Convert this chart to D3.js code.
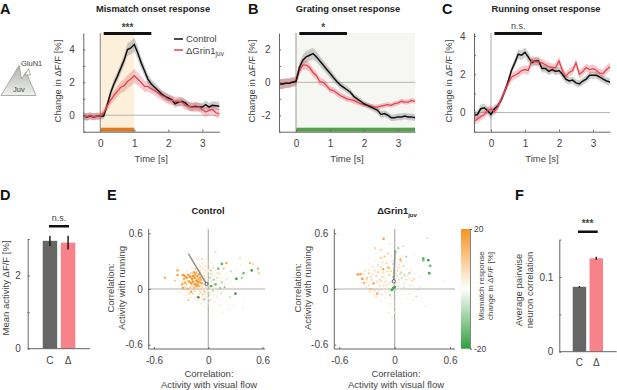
<!DOCTYPE html>
<html>
<head>
<meta charset="utf-8">
<script src="https://cdn.jsdelivr.net/npm/d3@7"></script>
<style>
body { margin: 0; background: #fff; }
svg { display: block; font-family: "Liberation Sans", Arial, sans-serif; }
text { fill: #444; }
</style>
</head>
<body>
<svg id="chart" width="617" height="390"></svg>
<script>
// time axis of panels A-C, every 100 ms
var times = [-0.5,-0.4,-0.3,-0.2,-0.1,0,0.1,0.2,0.3,0.4,0.5,0.6,0.7,0.8,0.9,1,1.1,1.2,1.3,1.4,1.5,1.6,1.7,1.8,1.9,2,2.1,2.2,2.3,2.4,2.5,2.6,2.7,2.8,2.9,3,3.1,3.2,3.3,3.4,3.5];

var mismatchControl = [-0.02,-0.12,-0.05,-0.1,-0.06,-0.06,-0.05,0.6,1.35,1.9,2.35,2.85,3.35,4.0,4.1,4.3,3.8,3.2,2.7,2.2,1.9,1.7,1.5,1.3,1.15,1.05,0.95,0.7,0.8,0.85,0.75,0.55,0.5,0.55,0.5,0.5,0.65,0.5,0.6,0.58,0.55];
var mismatchControlSe = [0.22,0.22,0.2,0.2,0.2,0.2,0.2,0.22,0.25,0.28,0.3,0.32,0.35,0.38,0.4,0.42,0.4,0.35,0.32,0.3,0.28,0.28,0.26,0.25,0.25,0.25,0.25,0.25,0.25,0.25,0.25,0.25,0.25,0.25,0.25,0.25,0.25,0.25,0.25,0.25,0.25];
var mismatchGrin = [-0.05,-0.1,-0.02,-0.1,-0.05,-0.05,0.15,0.55,0.9,1.2,1.45,1.7,1.8,2.05,2.2,2.4,2.2,2.0,1.75,1.75,1.6,1.5,1.35,1.2,1.1,0.95,0.9,0.85,0.85,0.8,0.6,0.55,0.5,0.5,0.5,0.35,0.2,0.3,0.35,0.15,0.1];
var mismatchGrinSe = [0.22,0.22,0.22,0.22,0.22,0.22,0.22,0.25,0.28,0.3,0.32,0.35,0.38,0.4,0.42,0.42,0.4,0.38,0.35,0.32,0.3,0.28,0.28,0.28,0.28,0.28,0.28,0.28,0.28,0.28,0.28,0.28,0.28,0.28,0.28,0.3,0.3,0.3,0.3,0.3,0.3];

var gratingControl = [-0.1,-0.1,-0.05,-0.05,0,0.05,0.9,1.35,1.55,1.65,1.75,1.55,1.3,1.05,0.8,0.55,0.3,0.05,-0.15,-0.3,-0.45,-0.6,-0.85,-1.0,-1.15,-1.3,-1.4,-1.5,-1.6,-1.7,-1.95,-1.9,-2.0,-2.15,-2.15,-2.1,-2.1,-2.05,-2.1,-2.1,-2.15];
var gratingControlSe = [0.3,0.3,0.28,0.28,0.28,0.28,0.3,0.32,0.35,0.35,0.35,0.32,0.3,0.3,0.28,0.28,0.25,0.22,0.22,0.2,0.2,0.2,0.18,0.18,0.18,0.18,0.18,0.18,0.18,0.2,0.2,0.2,0.2,0.2,0.2,0.2,0.2,0.2,0.2,0.2,0.2];
var gratingGrin = [-0.1,-0.1,-0.05,-0.05,0.05,0.1,0.7,1.05,1.05,0.9,0.6,0.4,0.05,0,-0.2,-0.45,-0.5,-0.65,-0.8,-0.9,-1.0,-1.05,-1.1,-1.2,-1.3,-1.35,-1.4,-1.45,-1.5,-1.5,-1.45,-1.4,-1.35,-1.4,-1.3,-1.25,-1.15,-1.2,-1.2,-1.1,-1.15];
var gratingGrinSe = [0.3,0.3,0.3,0.3,0.28,0.28,0.28,0.28,0.28,0.28,0.25,0.25,0.25,0.22,0.22,0.2,0.2,0.2,0.18,0.18,0.18,0.18,0.18,0.18,0.15,0.15,0.15,0.15,0.15,0.15,0.15,0.15,0.15,0.15,0.15,0.15,0.15,0.15,0.15,0.15,0.15];

var runningControl = [-0.15,-0.1,0.2,0.25,0.1,-0.1,0.2,0.35,0.65,1.1,1.6,2.2,2.6,3.05,3.0,3.15,2.9,2.6,2.7,2.7,2.3,2.3,2.15,2.25,2.15,2.2,2.0,1.75,1.65,1.7,1.55,1.5,1.65,1.75,1.95,1.95,1.95,1.85,1.75,1.65,1.6];
var runningControlSe = [0.22,0.22,0.22,0.22,0.22,0.22,0.2,0.18,0.15,0.15,0.18,0.2,0.22,0.25,0.25,0.25,0.25,0.22,0.22,0.22,0.2,0.2,0.2,0.2,0.2,0.2,0.2,0.2,0.18,0.18,0.18,0.18,0.18,0.18,0.18,0.18,0.18,0.18,0.2,0.2,0.2];
var runningGrin = [-0.45,-0.35,-0.2,-0.1,0.1,0.2,0.05,0.3,0.7,1.1,1.5,1.85,1.95,2.05,2.2,2.25,2.2,2.75,2.65,2.65,2.6,2.5,2.4,2.35,2.35,2.7,2.2,1.9,2.1,2.2,2.6,2.0,2.15,2.35,2.25,2.3,2.2,2.05,2.05,2.25,2.4];
var runningGrinSe = [0.2,0.2,0.2,0.2,0.2,0.2,0.18,0.18,0.18,0.2,0.22,0.22,0.22,0.22,0.22,0.22,0.22,0.22,0.22,0.22,0.22,0.22,0.22,0.22,0.22,0.22,0.22,0.22,0.22,0.22,0.22,0.22,0.22,0.22,0.22,0.22,0.22,0.22,0.22,0.22,0.22];

var barLabels = ["C", "Δ"];
var meanActivity = [2.95, 2.9];
var meanActivitySe = [0.14, 0.19];
var pairwiseCorr = [0.0868, 0.125];
var pairwiseCorrSe = [0.001, 0.002];

// scatter cells: [flow correlation, running correlation, mismatch response]
var controlCells = [
[-.48,.12,13],[-.34,.20,14],[-.34,.15,15],[-.37,.09,11],[-.28,.15,18],[-.26,.14,19],[-.24,.12,20],[-.22,.15,18],[-.20,.13,20],[-.18,.11,19],
[-.17,.14,20],[-.15,.12,20],[-.13,.09,20],[-.11,.08,19],[-.09,.07,18],[-.07,.06,15],[-.17,.08,20],[-.21,.08,18],[-.26,.07,17],[-.29,.05,15],
[-.28,.01,17],[-.23,0,15],[-.19,-.03,16],[-.15,.05,20],[-.13,.03,18],[-.09,.12,18],[-.22,-.12,11],[-.04,-.03,12],[-.06,-.06,10],[-.12,.32,9],
[-.07,.32,9],[.46,.28,13],[.55,.22,14],[.56,.17,12],[.49,.27,9],[.2,.28,16],[.17,.22,12],[.11,.17,8],[.05,.23,7],[-.14,.17,17],
[-.12,.14,19],[-.1,.16,17],[-.16,.18,16],[-.19,.06,19],[-.12,.05,18],[-.1,.03,14],[-.16,.01,13],[-.2,.02,10],[-.08,.1,14],[-.05,.09,9],
[-.24,.05,12],[-.27,.11,14],[-.14,.22,10],[-.09,.2,9],[-.04,.14,8],[-.17,-.05,8],[-.13,-.08,7],[-.09,-.03,8],[-.07,.01,9],[-.02,.02,6],
[.15,.27,-16],[.11,.22,-13],[.31,.11,-20],[.3,-.05,-19],[-.11,-.09,-19],[.48,.2,-19],[.39,.17,-13],[.37,.12,-12],[.03,.03,-17],[.08,.05,-14],
[.13,.01,-11],[.18,.02,-11],[-.04,-.11,-10],[.06,.1,-11],[.03,.2,-9],[.25,.19,-7],[.15,.07,-9],[.24,-.09,-6],[.35,.33,-5],[.08,.4,-5],
[.02,.12,-7],[.05,-.02,-8],[.1,.12,-6],[.14,-.05,-5],[.01,-.04,-6],[.04,.16,-5],[.09,-.08,-4],[.02,-.12,-5],[.12,.17,-4],[.2,.1,-4],
[-.05,.18,5],[-.02,.24,4],[-.06,.28,5],[-.1,.26,5],[0,.19,3],[.02,.07,3],[-.03,.06,5],[-.01,.1,4],[.03,.01,4],[.06,-.06,4],
[-.02,-.08,5],[-.05,-.13,5],[.01,-.16,4],[.07,-.14,4],[.12,-.1,3],[.16,-.03,3],[.18,.05,3],[.1,.03,3],[.05,.05,3],[.09,.09,2],
[-.12,-.13,5],[-.15,-.11,5],[-.08,-.16,4],[-.02,-.2,3],[.05,-.21,3],[.13,-.18,3],[.2,-.14,2],[.27,-.17,2],[.38,-.2,3],[.39,-.12,2],
[.23,-.22,3],[.16,-.25,3],[.04,-.28,2],[.24,.06,2],[.27,.02,2],[.31,.2,3],[.36,.26,2],[.2,.16,3],[.15,.13,3],[.08,.2,3],
[.03,.28,3],[-.03,.33,3],[-.15,.27,4],[-.18,.23,4],[-.23,.2,4],[-.3,.08,4],[-.31,-.03,4],[-.25,-.07,4],[-.2,-.09,4],[-.1,-.02,5],
[-.06,.22,7],[-.03,.2,6],[-.01,.16,6],[.02,.17,5],[-.08,.15,9],[-.04,.11,8],[-.02,.07,7],[.01,.04,5],[-.06,.03,8],[-.03,.01,7],
[-.05,-.01,8],[-.08,-.04,7],[-.11,0,9],[-.14,.07,10],[-.18,.04,10],[-.13,.18,12],[-.07,.13,11],[-.11,.11,14],[-.15,.15,14],[-.19,.17,9],
[-.23,.09,11],[-.25,.02,9],[-.21,-.05,8],[-.15,-.02,9],[-.1,-.06,6],[-.06,-.1,6],[-.03,-.05,6],[0,-.02,5],[.02,-.07,5],[.04,.09,5],
[.07,.14,4],[.06,.02,4],[.11,-.02,4],[.09,.17,4],[.13,.08,4],[.01,.21,4],[-.01,.27,5],[-.04,.25,6],[-.08,.24,6],[-.12,.2,8],
[.0,-.1,4],[-.04,-.18,4],[.03,-.11,4],[-.07,-.12,5],[.1,-.05,3],[.12,.05,3],[.22,.12,3],[.17,.09,3],[.14,.16,3],[.06,.26,3]
];

var grinCells = [
[-.12,.54,16],[-.40,.155,18],[-.35,.11,19],[-.37,.16,16],[-.33,.065,13],[-.23,.06,15],[-.19,-.05,15],[-.26,0,13],[-.125,.215,15],[-.07,.23,13],
[-.11,.35,12],[-.15,.335,11],[-.21,.44,9],[-.15,.42,9],[-.07,.38,10],[.06,.32,13],[.07,.30,10],[.105,.15,12],[.21,.11,10],[.19,.09,9],
[.09,.46,7],[.54,.08,4],[-.3,.12,11],[-.28,.17,10],[-.32,.2,8],[-.25,.1,9],[-.2,.14,9],[-.18,.18,9],[-.16,.1,9],[-.13,.13,10],
[-.1,.08,8],[-.06,.15,9],[-.04,.19,8],[-.02,.13,9],[-.09,.28,8],[-.18,.26,7],[-.24,.24,6],[-.28,.04,8],[-.22,-.02,8],[-.16,.03,7],
[-.12,.04,6],[-.08,.01,5],[-.14,-.06,6],[-.2,-.08,5],[-.27,-.03,6],[-.31,.02,5],[.03,.2,8],[.05,.1,7],[.02,.06,6],[.1,.06,6],
[.13,.21,4],[-.03,.3,5],[-.05,.48,5],[.16,.11,5],[.05,.26,5],
[.31,.33,-15],[.31,.31,-13],[.365,.31,-19],[.385,.25,-14],[.375,.17,-18],[.35,.55,-5],[.04,.44,-11],[.125,.35,-9],[.16,.17,-11],[-.015,.01,-18],
[-.03,-.01,-19],[0,.02,-19],[.08,.12,-9],[-.05,-.065,-9],[.235,-.08,-6],[.02,.4,-6],[.1,.25,-5],[.07,.18,-6],[.12,.1,-5],[.03,.14,-5],
[.1,.02,-4],[.04,.03,-5],[.17,.04,-4],[.11,.16,-4],[-.02,.09,-4],[.16,-.05,-3],[.08,-.06,-3],[.02,-.04,-3],[.28,.02,-3],[.28,.13,-3],
[-.01,-.14,3],[.01,-.18,3],[-.05,-.16,4],[-.1,-.1,4],[-.15,-.13,3],[-.06,-.26,3],[.0,-.25,3],[-.03,-.31,3],[.08,-.16,2],[.13,-.1,3],
[.2,-.12,2],[.33,-.18,3],[.18,.22,3],[.23,.17,3],[.21,.03,3],[.02,.25,3],[-.07,.05,3],[-.03,.04,4],[.01,.1,4],[.05,-.01,3],
[-.1,.12,4],[-.14,.17,4],[-.17,.06,4],[-.24,.16,4],[-.34,.16,4],[-.29,.07,4],[-.22,.3,3],[-.16,.23,3],[-.2,.38,3],[-.28,.27,3],
[-.12,.01,4],[-.08,-.05,4],[-.04,-.09,4],[.05,.33,3],[.13,.29,3],[.22,.36,2],[.15,.03,2],[.06,.07,2],[.09,.13,2],[-.01,.18,3],
[-.05,.22,8],[-.02,.27,7],[.01,.17,7],[.04,.23,8],[.06,.16,8],[-.08,.19,7],[-.12,.18,8],[-.15,.24,8],[-.22,.2,8],[-.26,.13,9],
[-.19,.08,8],[-.14,.08,7],[-.09,.04,6],[-.05,.07,7],[-.01,.05,6],[.03,.07,5],[-.06,-.02,5],[-.1,-.03,5],[-.17,-.02,6],[-.23,-.06,6],
[-.3,.1,8],[-.36,.07,6],[-.28,.21,5],[-.13,.29,6],[-.04,.36,5],[.01,.33,4],[.08,.24,5],[.13,.14,5],[.17,.2,4],[.09,-.01,4]
];

// circle + line showing the population mean in panel E
var controlMean = [[-0.02, 0.054], [-0.22, 0.38]];
var grinMean = [[-0.01, 0.083], [0.004, 0.42]];

var svg = d3.select("#chart");
var axisCol = "#666";
var black = "#111", red = "#e2464f";
var pink = "#f8828a", darkBar = "#666664";

function panelLetter(s, x, y) {
    svg.append("text").attr("x", x).attr("y", y).text(s)
        .style("font-size", "14.5px").style("font-weight", "bold").style("fill", "#111");
}

function label(s, x, y, size, weight) {
    return svg.append("text").attr("x", x).attr("y", y).attr("text-anchor", "middle")
        .style("font-size", (size || 9.5) + "px").style("font-weight", weight || "normal").text(s);
}

function vLabel(s, x, y, size) {
    return svg.append("text").attr("transform", "translate(" + x + "," + y + ") rotate(-90)")
        .attr("text-anchor", "middle").style("font-size", (size || 9.5) + "px").text(s);
}

function styleAxis(g) {
    g.selectAll("path").attr("stroke", axisCol).attr("stroke-width", 1);
    g.selectAll("line").attr("stroke", axisCol);
    g.selectAll("text").style("font-size", "10px").style("fill", "#444").style("font-family", "inherit");
}

// ticks point into the plot, labels stay outside
function leftAxis(scale, x, vals, fmt, pad) {
    var g = svg.append("g").attr("transform", "translate(" + x + ",0)")
        .call(d3.axisLeft(scale).tickValues(vals).tickFormat(fmt).tickSizeInner(-2).tickSizeOuter(0).tickPadding(pad));
    styleAxis(g);
    return g;
}

function bottomAxis(scale, y, vals, fmt, pad) {
    var g = svg.append("g").attr("transform", "translate(0," + y + ")")
        .call(d3.axisBottom(scale).tickValues(vals).tickFormat(fmt).tickSizeInner(-2).tickSizeOuter(0).tickPadding(pad));
    styleAxis(g);
    return g;
}

function oneLabel(v) { return v === 0 || Math.abs(v) % 2 === 0 ? d3.format("d")(v).replace("−", "-") : ""; }

function drawTrace(opt) {
    var x = d3.scaleLinear().domain([-0.5, 3.5]).range(opt.xRange);
    var y = d3.scaleLinear().domain(opt.yDomain).range([131.7, 33]);

    if (opt.shade) {
        svg.append("rect").attr("x", x(0)).attr("y", 33).attr("width", x(opt.shade.end) - x(0)).attr("height", 98.7)
            .attr("fill", opt.shade.color);
    }
    if (opt.stim) {
        svg.append("rect").attr("x", x(0)).attr("y", 127.7).attr("width", x(opt.stim.end) - x(0)).attr("height", 4)
            .attr("fill", opt.stim.color);
    }

    // zero lines
    svg.append("line").attr("x1", x(0)).attr("x2", x(0)).attr("y1", 33).attr("y2", 131.7)
        .attr("stroke", opt.vCol).attr("stroke-width", 1.2);
    svg.append("line").attr("x1", x.range()[0]).attr("x2", x.range()[1]).attr("y1", y(0)).attr("y2", y(0))
        .attr("stroke", "#b5b5b0").attr("stroke-width", 1);

    var band = function(se, vals) {
        return d3.area().x(function(d, i) { return x(times[i]); })
            .y0(function(d, i) { return y(vals[i] - se[i]); })
            .y1(function(d, i) { return y(vals[i] + se[i]); })(times);
    };
    var line = d3.line().x(function(d, i) { return x(times[i]); }).y(function(d) { return y(d); });

    svg.append("path").attr("d", band(opt.controlSe, opt.control)).attr("fill", "#8a8a8a").attr("opacity", 0.42);
    svg.append("path").attr("d", band(opt.grinSe, opt.grin)).attr("fill", red).attr("opacity", 0.28);
    if (opt.redOnTop) {
        svg.append("path").attr("d", line(opt.control)).attr("fill", "none").attr("stroke", black).attr("stroke-width", 1.5);
        svg.append("path").attr("d", line(opt.grin)).attr("fill", "none").attr("stroke", red).attr("stroke-width", 1.3);
    } else {
        svg.append("path").attr("d", line(opt.grin)).attr("fill", "none").attr("stroke", red).attr("stroke-width", 1.3);
        svg.append("path").attr("d", line(opt.control)).attr("fill", "none").attr("stroke", black).attr("stroke-width", 1.5);
    }

    leftAxis(y, x.range()[0], opt.yTicks, oneLabel, 8.5);
    bottomAxis(x, 131.7, [0, 1, 2, 3], d3.format("d"), 8);

    // significance bar
    svg.append("rect").attr("x", x(0.1)).attr("y", 32).attr("width", x(1.5) - x(0.1)).attr("height", 3).attr("fill", "#111");
    label(opt.sig, x(0.8), opt.sig === "n.s." ? 29 : 31, opt.sig === "n.s." ? 9 : 10, opt.sig === "n.s." ? "normal" : "bold");

    label("Time [s]", x(1.5), 162);
    vLabel("Change in ΔF/F [%]", opt.labelX, 81);
    label(opt.title, opt.titleX, 11.5, 9.3, "bold").style("fill", "#222");
}

drawTrace({ xRange: [83.3, 219.3], yDomain: [-1, 5], yTicks: [-1, 0, 1, 2, 3, 4], control: mismatchControl, controlSe: mismatchControlSe,
    grin: mismatchGrin, grinSe: mismatchGrinSe, vCol: "#999", shade: { end: 1, color: "#fdf0db" }, stim: { end: 1, color: "#de7a22" },
    sig: "***", title: "Mismatch onset response", titleX: 153, labelX: 60.5, redOnTop: true });

drawTrace({ xRange: [279, 415], yDomain: [-3, 3], yTicks: [-3, -2, -1, 0, 1, 2], control: gratingControl, controlSe: gratingControlSe,
    grin: gratingGrin, grinSe: gratingGrinSe, vCol: "#aaa", shade: { end: 3.5, color: "#f6f6f3" }, stim: { end: 3.5, color: "#55a04a" },
    sig: "*", title: "Grating onset response", titleX: 348, labelX: 254.5 });

drawTrace({ xRange: [474, 610], yDomain: [-1, 4.16], yTicks: [-1, 0, 1, 2, 3, 4], control: runningControl, controlSe: runningControlSe,
    grin: runningGrin, grinSe: runningGrinSe, vCol: "#b8b8b8",
    sig: "n.s.", title: "Running onset response", titleX: 546, labelX: 451.5, redOnTop: true });

// legend in panel A
svg.append("line").attr("x1", 174).attr("x2", 183).attr("y1", 39).attr("y2", 39).attr("stroke", black).attr("stroke-width", 1.5);
svg.append("line").attr("x1", 174).attr("x2", 183).attr("y1", 50).attr("y2", 50).attr("stroke", red).attr("stroke-width", 1.5);
svg.append("text").attr("x", 186).attr("y", 42).style("font-size", "9.5px").text("Control");
var legGrin = svg.append("text").attr("x", 186).attr("y", 53.5).style("font-size", "9.5px").text("ΔGrin1");
legGrin.append("tspan").attr("dy", 2.5).style("font-size", "6.5px").text("juv");

// cartoon left of panel A
var juvGrad = svg.append("defs").append("linearGradient").attr("id", "juvFill").attr("x1", 0).attr("y1", 0).attr("x2", 0).attr("y2", 1);
juvGrad.append("stop").attr("offset", 0).attr("stop-color", "#b0b0ae");
juvGrad.append("stop").attr("offset", 1).attr("stop-color", "#f0f0ee");
svg.append("path").attr("d", "M19,65.5 L1,95.5 L36,95.5 L26,72 L21.5,79 L20,70 Z")
    .attr("fill", "url(#juvFill)").attr("stroke", "#999").attr("stroke-width", 0.8);
svg.append("path").attr("d", "M25,75 L30.5,75 L28.5,68.5 Z").attr("fill", "#fff").attr("stroke", "#888").attr("stroke-width", 0.7);
svg.append("text").attr("x", 21).attr("y", 66).style("font-size", "7.5px").text("GluN1");
svg.append("text").attr("x", 13).attr("y", 92).style("font-size", "7.5px").text("Juv");

panelLetter("A", 0, 13.5);
panelLetter("B", 248, 13.5);
panelLetter("C", 442, 13.5);
panelLetter("D", 0, 200);
panelLetter("E", 107, 200);
panelLetter("F", 515, 200);

function drawBars(opt) {
    var x = d3.scaleBand().domain(barLabels).range(opt.bandRange).paddingInner(0.2).paddingOuter(0);
    var y = d3.scaleLinear().domain(opt.yDomain).range(opt.yRange);
    var axisX = d3.scaleLinear().domain([0, 1]).range(opt.axisRange);

    svg.selectAll(null).data(opt.values).enter().append("rect")
        .attr("x", function(d, i) { return x(barLabels[i]); })
        .attr("width", x.bandwidth())
        .attr("y", function(d) { return y(d); })
        .attr("height", function(d) { return y(0) - y(d); })
        .attr("fill", function(d, i) { return i === 0 ? darkBar : pink; });
    svg.selectAll(null).data(opt.values).enter().append("line")
        .attr("x1", function(d, i) { return x(barLabels[i]) + x.bandwidth() / 2; })
        .attr("x2", function(d, i) { return x(barLabels[i]) + x.bandwidth() / 2; })
        .attr("y1", function(d, i) { return y(d - opt.se[i]); })
        .attr("y2", function(d, i) { return y(d + opt.se[i]); })
        .attr("stroke", "#111").attr("stroke-width", 1.4);

    leftAxis(y, opt.axisRange[0], opt.yTicks, opt.fmt, opt.pad);
    var base = svg.append("g");
    base.append("line").attr("x1", axisX(0)).attr("x2", axisX(1)).attr("y1", y(0)).attr("y2", y(0))
        .attr("stroke", axisCol).attr("stroke-width", 1);
    barLabels.forEach(function(s, i) {
        label(s, x(s) + x.bandwidth() / 2, y(0) + opt.catDy, 10);
    });

    svg.append("rect").attr("x", opt.sigRange[0]).attr("width", opt.sigRange[1] - opt.sigRange[0])
        .attr("y", opt.sigY).attr("height", 2.5).attr("fill", "#111");
}

drawBars({ bandRange: [42.7, 75.3], values: meanActivity, se: meanActivitySe, yDomain: [0, 3], yRange: [348.7, 239], axisRange: [27.7, 90],
    yTicks: [0, 1, 2, 3], fmt: function(v) { return v === 0 || v === 2 ? v : ""; }, pad: 7, catDy: 15.5, sigRange: [49, 69], sigY: 225 });
label("n.s.", 59, 221, 9);
vLabel("Mean activity ΔF/F [%]", 9, 288);

drawBars({ bandRange: [572.7, 603], values: pairwiseCorr, se: pairwiseCorrSe, yDomain: [0, 0.15], yRange: [351.7, 239.6], axisRange: [559.3, 616.7],
    yTicks: [0, 0.05, 0.1, 0.15], fmt: function(v) { return v === 0 ? "0" : v === 0.1 ? "0.1" : ""; }, pad: 6, catDy: 14, sigRange: [578, 597.7], sigY: 230.5 });
label("***", 587.5, 227, 10, "bold");
vLabel("Average pairwise", 522, 290);
vLabel("neuron correlation", 533, 290);

// panel E scatters
var cellColor = d3.scaleLinear().domain([-20, 0, 20]).range(["#2ea03a", "#ffffff", "#f7931e"]);

function drawScatter(opt) {
    var x = d3.scaleLinear().domain([-0.6, 0.6]).range(opt.xTickRange);
    var y = d3.scaleLinear().domain([-0.6, 0.6]).range([344.7, 233.3]);
    var left = opt.left, right = opt.right;

    svg.append("line").attr("x1", x(0)).attr("x2", x(0)).attr("y1", 229).attr("y2", 349).attr("stroke", "#b0b0b0").attr("stroke-width", 1.2);
    svg.append("line").attr("x1", left).attr("x2", right).attr("y1", y(0)).attr("y2", y(0)).attr("stroke", "#b0b0b0").attr("stroke-width", 1.2);

    svg.selectAll(null).data(opt.cells).enter().append("circle")
        .attr("cx", function(d) { return x(d[0]); })
        .attr("cy", function(d) { return y(d[1]); })
        .attr("r", function(d) { return Math.abs(d[2]) > 12 ? 1.35 : 1.05; })
        .attr("fill", function(d) { return cellColor(d[2]); });

    svg.append("line").attr("x1", x(opt.mean[0][0])).attr("y1", y(opt.mean[0][1]))
        .attr("x2", x(opt.mean[1][0])).attr("y2", y(opt.mean[1][1]))
        .attr("stroke", "#8f8f8b").attr("stroke-width", 1.5);
    svg.append("circle").attr("cx", x(opt.mean[0][0])).attr("cy", y(opt.mean[0][1])).attr("r", 1.6)
        .attr("fill", "#fff").attr("stroke", "#333").attr("stroke-width", 0.8);

    var fmt = function(v) { return v === 0 ? "0" : d3.format(".1f")(v).replace("−", "-"); };
    var gy = svg.append("g").attr("transform", "translate(" + left + ",0)")
        .call(d3.axisLeft(y).tickValues([-0.6, 0, 0.6]).tickFormat(fmt).tickSizeInner(-2).tickSizeOuter(0).tickPadding(6));
    styleAxis(gy);
    gy.select("path").attr("d", "M0,229V349");
    var gx = svg.append("g").attr("transform", "translate(0,349)")
        .call(d3.axisBottom(x).tickValues([-0.6, 0, 0.6]).tickFormat(fmt).tickSizeInner(-2).tickSizeOuter(0).tickPadding(8));
    styleAxis(gx);
    gx.select("path").attr("d", "M" + left + ",0H" + right);

    label("Correlation:", opt.labelX, 376.5);
    label("Activity with visual flow", opt.labelX, 388);
    vLabel("Correlation:", opt.yLabelX, 288);
    vLabel("Activity with running", opt.yLabelX + 10.5, 288);
}

drawScatter({ cells: controlCells, mean: controlMean, xTickRange: [154, 262.6], left: 148.7, right: 265, labelX: 209, yLabelX: 114 });
drawScatter({ cells: grinCells, mean: grinMean, xTickRange: [339.3, 450], left: 334.3, right: 455, labelX: 396, yLabelX: 300.5 });

label("Control", 208, 214, 9.3, "bold").style("fill", "#222");
var grinTitle = label("ΔGrin1", 397, 214, 9.3, "bold").style("fill", "#222");
grinTitle.append("tspan").attr("dy", 2.5).style("font-size", "6px").text("juv");

// colour bar
var barScale = d3.scaleLinear().domain([-20, 20]).range([348.7, 229]);
var barGrad = svg.select("defs").append("linearGradient").attr("id", "cbar").attr("x1", 0).attr("y1", 1).attr("x2", 0).attr("y2", 0);
[-20, -10, 0, 10, 20].forEach(function(v) {
    barGrad.append("stop").attr("offset", (v + 20) / 40).attr("stop-color", cellColor(v));
});
svg.append("rect").attr("x", 461).attr("y", barScale(20)).attr("width", 9).attr("height", barScale(-20) - barScale(20)).attr("fill", "url(#cbar)");
var barAxis = svg.append("g").attr("transform", "translate(470,0)")
    .call(d3.axisRight(barScale).tickValues([-20, 20]).tickFormat(function(v) { return String(v); }).tickSizeInner(2).tickSizeOuter(0).tickPadding(2));
barAxis.selectAll("path").attr("stroke", "#666").attr("stroke-width", 0.8);
barAxis.selectAll("line").attr("stroke", "#666");
barAxis.selectAll("text").style("font-size", "8.5px").style("fill", "#444");
vLabel("Mismatch response", 484, 286, 8);
vLabel("change in ΔF/F [%]", 493, 286, 8);
</script>
</body>
</html>
